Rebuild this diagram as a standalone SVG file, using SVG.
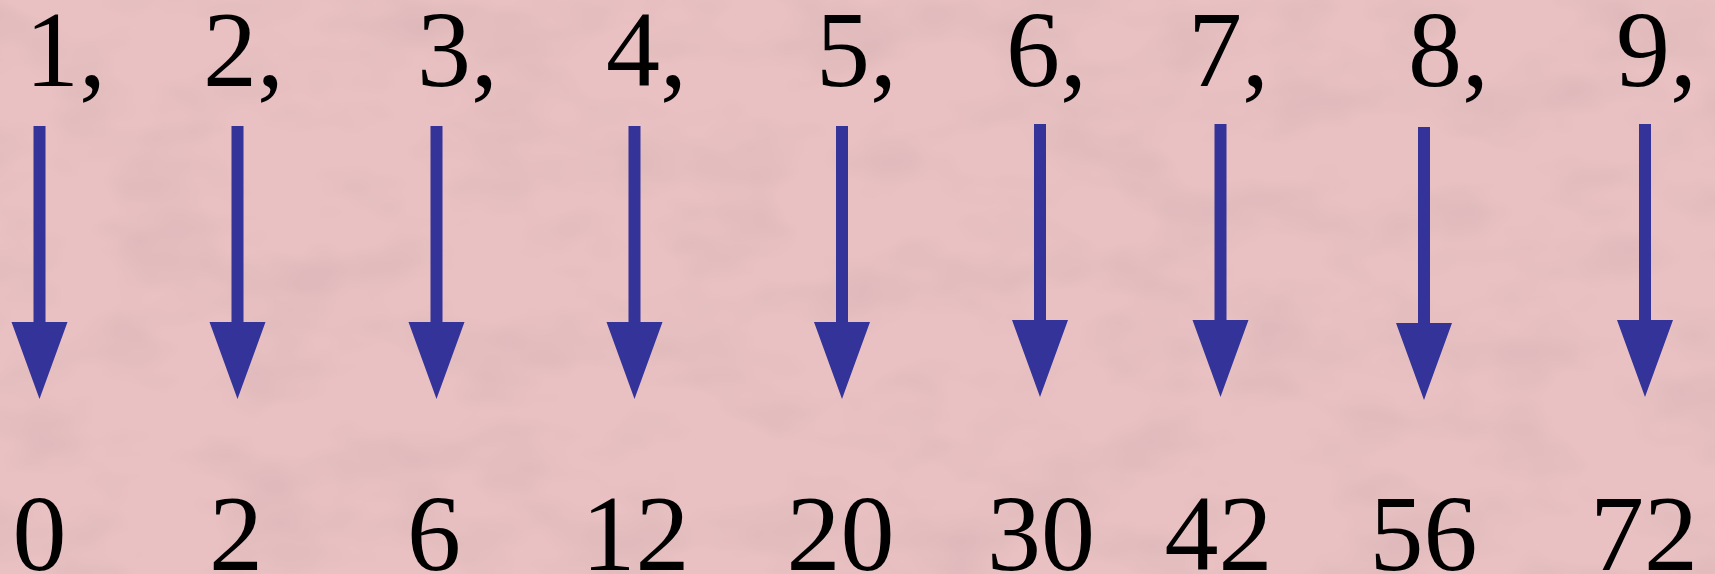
<svg xmlns="http://www.w3.org/2000/svg" width="1715" height="574" viewBox="0 0 1715 574">
<defs>
<filter id="mottle" x="0" y="0" width="100%" height="100%">
<feTurbulence type="fractalNoise" baseFrequency="0.009 0.016" numOctaves="3" seed="7" result="n"/>
<feColorMatrix in="n" type="matrix" values="0 0 0 0 0.6  0 0 0 0 0.4  0 0 0 0 0.42  0 0 0 -1.8 1.0" result="c"/>
<feComposite in="c" in2="SourceGraphic" operator="over"/>
</filter>
<style>
.lbl{font-family:"Liberation Serif","Times New Roman",serif;font-size:108px;fill:#000}
.bot{text-anchor:middle}
.arr{fill:#333399}
</style>
<g id="arrowShape"><path d="M-6,0 H6 V196 H28 L0,273 L-28,196 H-6 Z"/></g>
</defs>
<rect width="1715" height="574" fill="#e9c1c2"/>
<rect width="1715" height="574" fill="#e9c1c2" filter="url(#mottle)" opacity="0.45"/>
<g id="top-labels">
<g id="n1"><text class="lbl" x="25" y="86">1,</text></g>
<g id="n2"><text class="lbl" x="203" y="86">2,</text></g>
<g id="n3"><text class="lbl" x="417" y="86">3,</text></g>
<g id="n4"><text class="lbl" x="606" y="86">4,</text></g>
<g id="n5"><text class="lbl" x="816" y="86">5,</text></g>
<g id="n6"><text class="lbl" x="1006" y="86">6,</text></g>
<g id="n7"><text class="lbl" x="1188" y="86">7,</text></g>
<g id="n8"><text class="lbl" x="1408" y="86">8,</text></g>
<g id="n9"><text class="lbl" x="1616" y="86">9,</text></g>
</g>
<g id="connectors" class="arr">
<use href="#arrowShape" transform="translate(39.5,126)"/>
<use href="#arrowShape" transform="translate(237.5,126)"/>
<use href="#arrowShape" transform="translate(436.5,126)"/>
<use href="#arrowShape" transform="translate(634.5,126)"/>
<use href="#arrowShape" transform="translate(842,126)"/>
<use href="#arrowShape" transform="translate(1040,124)"/>
<use href="#arrowShape" transform="translate(1220.5,124)"/>
<use href="#arrowShape" transform="translate(1424,127)"/>
<use href="#arrowShape" transform="translate(1645,124)"/>
</g>
<g id="bottom-labels">
<g id="r1"><text class="lbl bot" x="39.5" y="570">0</text></g>
<g id="r2"><text class="lbl bot" x="236" y="570">2</text></g>
<g id="r3"><text class="lbl bot" x="434" y="570">6</text></g>
<g id="r4"><text class="lbl bot" x="635.5" y="570">12</text></g>
<g id="r5"><text class="lbl bot" x="840.5" y="570">20</text></g>
<g id="r6"><text class="lbl bot" x="1041" y="570">30</text></g>
<g id="r7"><text class="lbl bot" x="1218.5" y="570">42</text></g>
<g id="r8"><text class="lbl bot" x="1423.5" y="570">56</text></g>
<g id="r9"><text class="lbl bot" x="1644" y="570">72</text></g>
</g>
</svg>
